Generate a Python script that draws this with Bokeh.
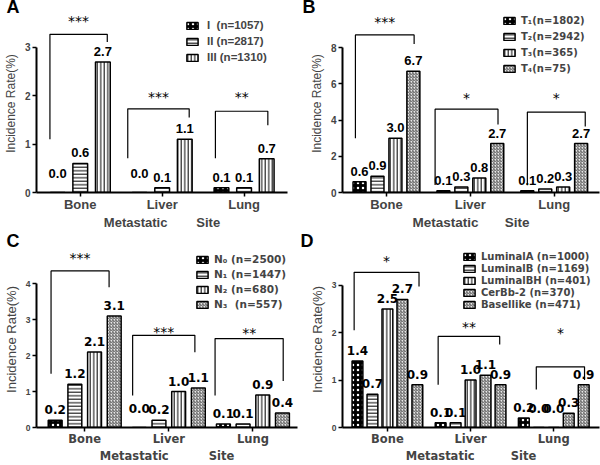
from bokeh.plotting import figure
from bokeh.models import ColumnDataSource, FixedTicker, Legend, LegendItem, Range1d
from bokeh.layouts import column, row
from bokeh.core.properties import value
from bokeh.embed import file_html
from bokeh.resources import INLINE

sites = ["Bone", "Liver", "Lung"]
y_title = "Incidence Rate(%)"

a_names = ["I  (n=1057)", "II (n=2817)", "III (n=1310)"]
a_I = [0.0, 0.0, 0.1]
a_II = [0.6, 0.1, 0.1]
a_III = [2.7, 1.1, 0.7]
a_yticks = [0, 1, 2, 3]
a_sig = ["***", "***", "**"]
a_br_top = [3.27, 1.73, 1.68]
a_br_left_low = [1.1, 0.71, 0.71]
a_br_right_low = [3.11, 1.55, 1.39]
a_star_y = [3.6, 2.04, 2.04]
a_br_x0 = [-0.37, -0.42, -0.35]
a_br_x1 = [0.33, 0.33, 0.29]

b_names = ["T\u2081(n=1802)", "T\u2082(n=2942)", "T\u2083(n=365)", "T\u2084(n=75)"]
b_T1 = [0.6, 0.1, 0.1]
b_T2 = [0.9, 0.3, 0.2]
b_T3 = [3.0, 0.8, 0.3]
b_T4 = [6.7, 2.7, 2.7]
b_yticks = [0, 2, 4, 6, 8]
b_sig = ["***", "*", "*"]
b_br_top = [8.7, 4.6, 4.44]
b_br_left_low = [3.0, 0.42, 0.4]
b_br_right_low = [8.2, 3.76, 3.65]
b_star_y = [9.6, 5.4, 5.4]
b_br_x0 = [-0.37, -0.42, -0.32]
b_br_x1 = [0.33, 0.33, 0.37]

c_names = ["N\u2080 (n=2500)", "N\u2081 (n=1447)", "N\u2082 (n=680)", "N\u2083  (n=557)"]
c_N0 = [0.2, 0.0, 0.1]
c_N1 = [1.2, 0.2, 0.1]
c_N2 = [2.1, 1.0, 0.9]
c_N3 = [3.1, 1.1, 0.4]
c_yticks = [0, 1, 2, 3, 4]
c_sig = ["***", "***", "**"]
c_br_top = [4.35, 2.56, 2.47]
c_br_left_low = [1.49, 0.89, 0.89]
c_br_right_low = [3.9, 2.09, 1.29]
c_star_y = [4.78, 2.74, 2.72]
c_br_x0 = [-0.4, -0.43, -0.45]
c_br_x1 = [0.29, 0.31, 0.36]

d_names = ["LuminalA (n=1000)", "LuminalB (n=1169)", "LuminalBH (n=401)",
           "CerBb-2 (n=370)", "Basellike (n=471)"]
d_LA = [1.4, 0.1, 0.2]
d_LB = [0.7, 0.1, 0.0]
d_LBH = [2.5, 1.0, 0.0]
d_CB = [2.7, 1.1, 0.3]
d_BL = [0.9, 0.9, 0.9]
d_yticks = [0, 1, 2, 3]
d_sig = ["*", "**", "*"]
d_br_top = [3.27, 1.92, 1.28]
d_br_left_low = [2.05, 0.9, 0.8]
d_br_right_low = [2.97, 1.75, 1.0]
d_star_y = [3.57, 2.19, 2.05]
d_br_x0 = [-0.4, -0.39, -0.21]
d_br_x1 = [0.38, 0.35, 0.37]

CHECK = dict(fill_color="black", hatch_pattern="dot", hatch_color="white", hatch_scale=5, hatch_weight=2)
HLINE = dict(fill_color="white", hatch_pattern="horizontal_line", hatch_color="black", hatch_scale=3.5, hatch_weight=1)
VLINE = dict(fill_color="white", hatch_pattern="vertical_line", hatch_color="black", hatch_scale=3.5, hatch_weight=1)
DIAG = dict(fill_color="#e8e8e8", hatch_pattern="right_diagonal_line", hatch_color="#333333", hatch_scale=3, hatch_weight=0.8)

ARIAL = "Liberation Sans"
DEJA = "DejaVu Sans"


def panel(letter, series, names, styles, yticks, ymax, xr, step, bw, sig, brk,
          fig_w, fig_h, borders, txt, leg):
    p = figure(width=fig_w, height=fig_h, x_range=Range1d(*xr), y_range=Range1d(0, ymax),
               output_backend="svg", toolbar_location=None,
               min_border_left=borders[0], min_border_right=borders[1],
               min_border_top=borders[2], min_border_bottom=borders[3])
    p.outline_line_color = None
    p.grid.visible = False
    p.background_fill_color = "white"
    p.border_fill_color = "white"

    # panel letter
    p.title.text = letter
    p.title.align = "left"
    p.title.vertical_align = "top"
    p.title.offset = txt["letter_dx"]
    p.title.standoff = txt["standoff"]
    p.title.text_line_height = 1.0
    p.title.text_font = ARIAL
    p.title.text_font_style = "bold"
    p.title.text_font_size = "18px"
    p.title.text_color = "black"

    n = len(series)
    rends = []
    for k, (vals, st) in enumerate(zip(series, styles)):
        off = (k - (n - 1) / 2) * step
        xs = [i + 0.5 + off for i in range(len(sites))]
        src = ColumnDataSource(dict(x=xs, top=vals,
                                    lab=["%.1f" % v for v in vals],
                                    yo=[-txt["zero_off"] if v == 0 else -txt["val_off"] for v in vals]))
        r = p.vbar(x="x", top="top", width=bw, source=src, line_color="black", line_width=1.5, **st)
        rends.append(r)
        p.text(x="x", y="top", text="lab", y_offset="yo", source=src,
               text_align="center", text_baseline="bottom",
               text_font=value(txt["val_font"]), text_font_style="bold",
               text_font_size=txt["val_size"], text_color="black")

    # significance brackets and stars
    top, llow, rlow, sy, x0, x1 = brk
    bx, by, stx = [], [], []
    for i in range(len(sites)):
        c = i + 0.5
        bx.append([c + x0[i], c + x0[i], c + x1[i], c + x1[i]])
        by.append([llow[i], top[i], top[i], rlow[i]])
        stx.append(c + (x0[i] + x1[i]) / 2)
    p.multi_line(xs=bx, ys=by, line_color="black", line_width=1.2)
    p.text(x=stx, y=sy, text=sig, text_align="center", text_baseline="middle",
           y_offset=3, text_font=value(DEJA), text_font_size="14px", text_color="black")

    xa = p.xaxis[0]
    xa.ticker = FixedTicker(ticks=[i + 0.5 for i in range(len(sites))], minor_ticks=[])
    xa.major_label_overrides = {i + 0.5: s for i, s in enumerate(sites)}
    xa.axis_line_width = 2
    xa.major_tick_out = 4
    xa.major_tick_in = 0
    xa.major_tick_line_width = 1.5
    xa.minor_tick_line_color = None
    xa.major_label_standoff = txt["lab_so"]
    xa.major_label_text_font = txt["x_font"]
    xa.major_label_text_font_style = "bold"
    xa.major_label_text_font_size = txt["x_size"]
    xa.major_label_text_line_height = 1.0
    xa.axis_label = "Metastatic" + "\u00a0" * txt["gap"] + "Site"
    xa.axis_label_standoff = txt["title_so"]
    xa.axis_label_text_line_height = 1.0
    xa.axis_label_text_font = txt["x_font"]
    xa.axis_label_text_font_style = "bold"
    xa.axis_label_text_font_size = txt["xt_size"]

    ya = p.yaxis[0]
    ya.ticker = FixedTicker(ticks=yticks, minor_ticks=[])
    ya.bounds = (0, yticks[-1])
    ya.axis_line_width = 2
    ya.major_tick_out = 4
    ya.major_tick_in = 0
    ya.major_tick_line_width = 1.5
    ya.minor_tick_line_color = None
    ya.major_label_standoff = 2
    ya.major_label_text_font = ARIAL
    ya.major_label_text_font_style = "bold"
    ya.major_label_text_font_size = txt["ytick_size"]
    ya.axis_label = y_title
    ya.axis_label_standoff = 4
    ya.axis_label_text_font = ARIAL
    ya.axis_label_text_font_style = "normal"
    ya.axis_label_text_font_size = txt["ytitle_size"]

    legend = Legend(items=[LegendItem(label=nm, renderers=[r]) for nm, r in zip(names, rends)],
                    location="top_right", orientation="vertical",
                    background_fill_alpha=0, border_line_alpha=0,
                    margin=0, padding=leg["pad"], spacing=leg["spacing"],
                    glyph_width=14, glyph_height=9, label_standoff=leg["standoff"],
                    label_width=leg["lw"], label_height=9,
                    label_text_font=leg["font"], label_text_font_style="bold",
                    label_text_font_size=leg["size"])
    p.add_layout(legend)
    return p


txt_top = dict(val_font=ARIAL, val_size="13px", val_off=6, zero_off=15,
               x_font=ARIAL, x_size="13px", xt_size="13px", gap=8, lab_so=0, title_so=0,
               ytick_size="10px", ytitle_size="12px", letter_dx=-30, standoff=-8)
txt_B = dict(txt_top, xt_size="13.5px", gap=7, letter_dx=-40)
txt_bot = dict(val_font=DEJA, val_size="12px", val_off=6, zero_off=15,
               x_font=DEJA, x_size="11.5px", xt_size="11.5px", gap=10, lab_so=0, title_so=0,
               ytick_size="8.5px", ytitle_size="13px", letter_dx=-30, standoff=-3)
txt_D = dict(txt_bot, gap=9, letter_dx=-42)

pA = panel("A", [a_I, a_II, a_III], a_names, [CHECK, HLINE, VLINE], a_yticks, 3.68,
           (-0.034, 3.03), 0.276, 0.18, a_sig,
           (a_br_top, a_br_left_low, a_br_right_low, a_star_y, a_br_x0, a_br_x1),
           300, 232, (32, 13, 0, 39), txt_top,
           dict(pad=5, spacing=4, standoff=8, lw=75, font=ARIAL, size="11.5px"))

pB = panel("B", [b_T1, b_T2, b_T3, b_T4], b_names, [CHECK, HLINE, VLINE, DIAG], b_yticks, 9.83,
           (-0.024, 3.04), 0.214, 0.155, b_sig,
           (b_br_top, b_br_left_low, b_br_right_low, b_star_y, b_br_x0, b_br_x1),
           300, 232, (42, 1, 0, 39), txt_B,
           dict(pad=1, spacing=5, standoff=5, lw=77, font=DEJA, size="10px"))

pC = panel("C", [c_N0, c_N1, c_N2, c_N3], c_names, [CHECK, HLINE, VLINE, DIAG], c_yticks, 4.89,
           (-0.073, 3.03), 0.234, 0.165, c_sig,
           (c_br_top, c_br_left_low, c_br_right_low, c_star_y, c_br_x0, c_br_x1),
           300, 233, (32, 3, 0, 34), txt_bot,
           dict(pad=2, spacing=3, standoff=5, lw=81, font=DEJA, size="10.5px"))

pD = panel("D", [d_LA, d_LB, d_LBH, d_CB, d_BL], d_names, [CHECK, HLINE, VLINE, DIAG, DIAG], d_yticks, 3.71,
           (-0.04, 3.05), 0.18, 0.13, d_sig,
           (d_br_top, d_br_left_low, d_br_right_low, d_star_y, d_br_x0, d_br_x1),
           300, 233, (42, 1, 0, 34), txt_D,
           dict(pad=0, spacing=1, standoff=5, lw=118, font=DEJA, size="10px"))

layout = column(row(pA, pB), row(pC, pD))
open("out.html", "w").write(file_html(layout, INLINE))
